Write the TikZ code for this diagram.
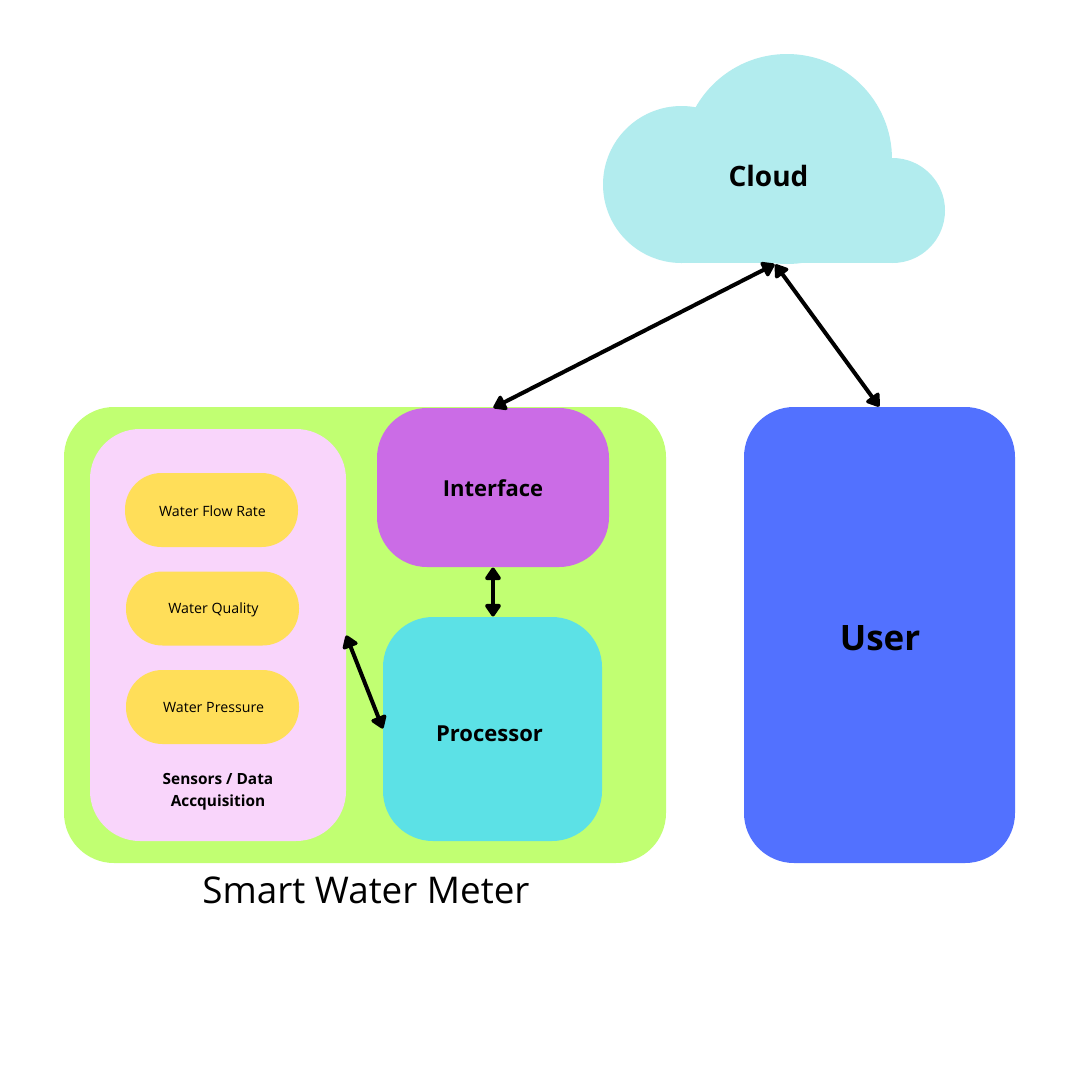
\documentclass[tikz,border=0pt]{standalone}
\usepackage{fontspec}
\setmainfont{Open Sans}
\usetikzlibrary{arrows.meta}
\definecolor{cgreen}{HTML}{C1FF72}
\definecolor{cpink}{HTML}{F9D5FB}
\definecolor{cyellow}{HTML}{FFDE59}
\definecolor{cpurple}{HTML}{CB6CE6}
\definecolor{ccyan}{HTML}{5CE1E6}
\definecolor{cblue}{HTML}{5271FF}
\definecolor{ccloud}{HTML}{B2ECEE}
\tikzset{
  panel/.style={rounded corners=50pt,inner sep=0pt,outer sep=0pt},
  pill/.style={fill=cyellow,rounded corners=36.5pt,inner sep=0pt,outer sep=0pt,minimum width=173pt,minimum height=74pt},
  pilltext/.style={font=\fontsize{14.2}{16}\selectfont},
  link/.style={line width=4pt,{Triangle[length=14pt,width=18pt,round]}-{Triangle[length=14pt,width=18pt,round]},shorten <=0.5pt,shorten >=0.5pt},
  biglabel/.style={font=\bfseries\fontsize{22}{26}\selectfont}
}
\begin{document}
\begin{tikzpicture}[x=1pt,y=-1pt]
\useasboundingbox (0,0) rectangle (1080,1080);
\fill[white] (0,0) rectangle (1080,1080);
% cloud
\fill[ccloud] (681.5,184.5) circle[radius=78.5pt];
\fill[ccloud] (787,159) circle[radius=105pt];
\fill[ccloud] (892.5,210.5) circle[radius=52.5pt];
\fill[ccloud] (681.5,160) rectangle (892.5,263);
\node[font=\bfseries\fontsize{28}{32}\selectfont] (cloud) at (768.5,175.5) {Cloud};
\coordinate (cloudport) at (775,264);
% meter
\node[panel,fill=cgreen,minimum width=602pt,minimum height=456pt] (meter) at (365,635) {};
\node[panel,fill=cpink,minimum width=256pt,minimum height=412pt] (sensors) at (218,635) {};
\node[panel,fill=cpurple,minimum width=232pt,minimum height=159pt] (interface) at (493,487.5) {};
\node[biglabel] (ifacelabel) at (493,488.5) {Interface};
\node[panel,fill=ccyan,minimum width=219pt,minimum height=224pt] (processor) at (492.5,729) {};
\node[biglabel] (proclabel) at (489.5,734) {Processor};
\node[panel,fill=cblue,minimum width=271pt,minimum height=456pt] (user) at (879.5,635) {};
\node[font=\bfseries\fontsize{35}{40}\selectfont] (userlabel) at (880,638) {User};
\node[pill] (flow) at (211.5,510) {};
\node[pill] (quality) at (212.5,608.5) {};
\node[pill] (pressure) at (212.5,707) {};
\node[pilltext] (flowlabel) at (212.5,511) {Water Flow Rate};
\node[pilltext] (qualitylabel) at (213.5,610) {Water Quality};
\node[pilltext] (pressurelabel) at (213.5,707.5) {Water Pressure};
\node[font=\bfseries\fontsize{15.4}{22}\selectfont,align=center] (senslabel) at (218,792) {Sensors / Data\\Accquisition};
\node[font=\fontsize{36.8}{44}\selectfont] (title) at (366,890) {Smart Water Meter};
% links
\draw[link] (cloudport) -- (interface.north);
\draw[link] (cloudport) -- (user.north);
\draw[link] (interface.south) -- (interface.south |- processor.north);
\draw[link] (sensors.east) -- (processor.west);
\end{tikzpicture}
\end{document}
